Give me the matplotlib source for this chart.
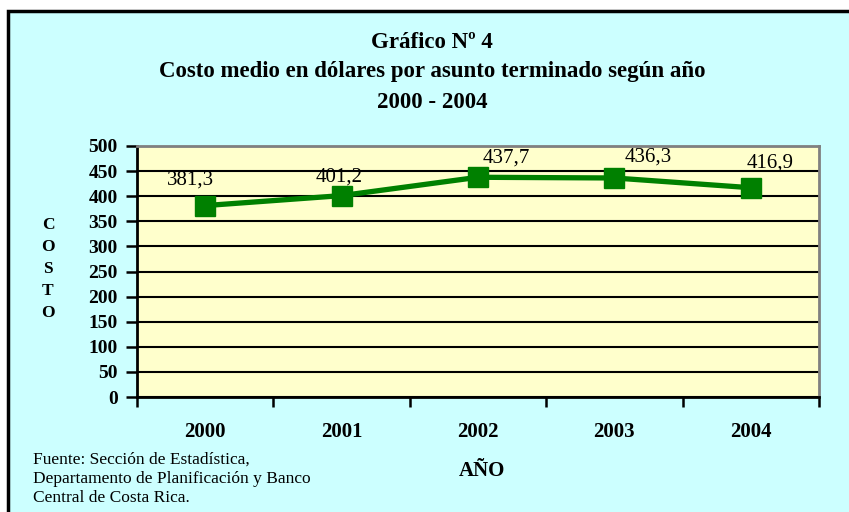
import matplotlib.pyplot as plt
from matplotlib.patches import Rectangle

years = ["2000", "2001", "2002", "2003", "2004"]
costs = [381.3, 401.2, 437.7, 436.3, 416.9]
y_ticks = [0, 50, 100, 150, 200, 250, 300, 350, 400, 450, 500]

# where each value label was dragged to, in pixels from its marker
label_offsets = [(-15, 26), (-2, 19), (28, 19), (34, 21), (19, 25)]

W, H = 849, 512
plt.rcParams["font.family"] = "Liberation Serif"

fig = plt.figure(figsize=(W / 100, H / 100), dpi=100)
fig.patch.set_facecolor("white")

# outer cyan frame (runs off the right and bottom edges like the original)
fig.patches.append(Rectangle((8 / W, -0.05), 1.1, 1 - 11 / H + 0.05,
                             transform=fig.transFigure, facecolor="#CCFFFF",
                             edgecolor="black", linewidth=2.5, zorder=-5))

ax = fig.add_axes([137 / W, 1 - 397 / H, (819 - 137) / W, (397 - 146) / H])
ax.set_zorder(2)
ax.set_facecolor("#FFFFCC")

x = list(range(len(years)))
ax.plot(x, costs, color="#008000", linewidth=3.8, marker="s", markersize=15,
        zorder=3, clip_on=False)
for xi, v, off in zip(x, costs, label_offsets):
    ax.annotate(f"{v:.1f}".replace(".", ","), (xi, v), xytext=off,
                textcoords="offset pixels", ha="center", va="center",
                fontsize=15, zorder=4)

ax.set_xlim(-0.5, len(years) - 0.5)
ax.set_ylim(0, 500)
ax.set_yticks(y_ticks)
ax.set_yticklabels([str(t) for t in y_ticks], fontsize=14, fontweight="bold")
ax.yaxis.grid(True, color="black", linewidth=1.5)
ax.set_axisbelow(True)

# category ticks sit on the boundaries, labels in the middle
ax.set_xticks([i - 0.5 for i in range(len(years) + 1)])
ax.set_xticklabels([])
ax.set_xticks(x, minor=True)
ax.set_xticklabels(years, minor=True, fontsize=15, fontweight="bold")
ax.tick_params(axis="x", which="minor", length=0, pad=18)
ax.tick_params(axis="x", which="major", length=7, width=1.8, direction="out")
ax.tick_params(axis="y", length=8, width=1.8, direction="out", pad=6)

for side in ["left", "bottom"]:
    ax.spines[side].set_linewidth(2)
    ax.spines[side].set_color("black")
for side in ["top", "right"]:
    ax.spines[side].set_linewidth(2)
    ax.spines[side].set_color("#808080")

fig.text(432 / W, 1 - 42 / H, "Gráfico Nº 4", ha="center", va="center",
         fontsize=16.5, fontweight="bold")
fig.text(432 / W, 1 - 72 / H, "Costo medio en dólares por asunto terminado según año",
         ha="center", va="center", fontsize=16.5, fontweight="bold")
fig.text(432 / W, 1 - 102 / H, "2000 - 2004", ha="center", va="center",
         fontsize=16.5, fontweight="bold")

fig.text(48 / W, 1 - 269 / H, "C\nO\nS\nT\nO", ha="center", va="center",
         fontsize=12.5, fontweight="bold", linespacing=1.5)
fig.text(482 / W, 1 - 471 / H, "AÑO", ha="center", va="center",
         fontsize=15, fontweight="bold")
fig.text(33 / W, 1 - 479 / H,
         "Fuente: Sección de Estadística,\nDepartamento de Planificación y Banco\nCentral de Costa Rica.",
         ha="left", va="center", fontsize=12.5, linespacing=1.25)

fig.savefig("out.png", dpi=100)
